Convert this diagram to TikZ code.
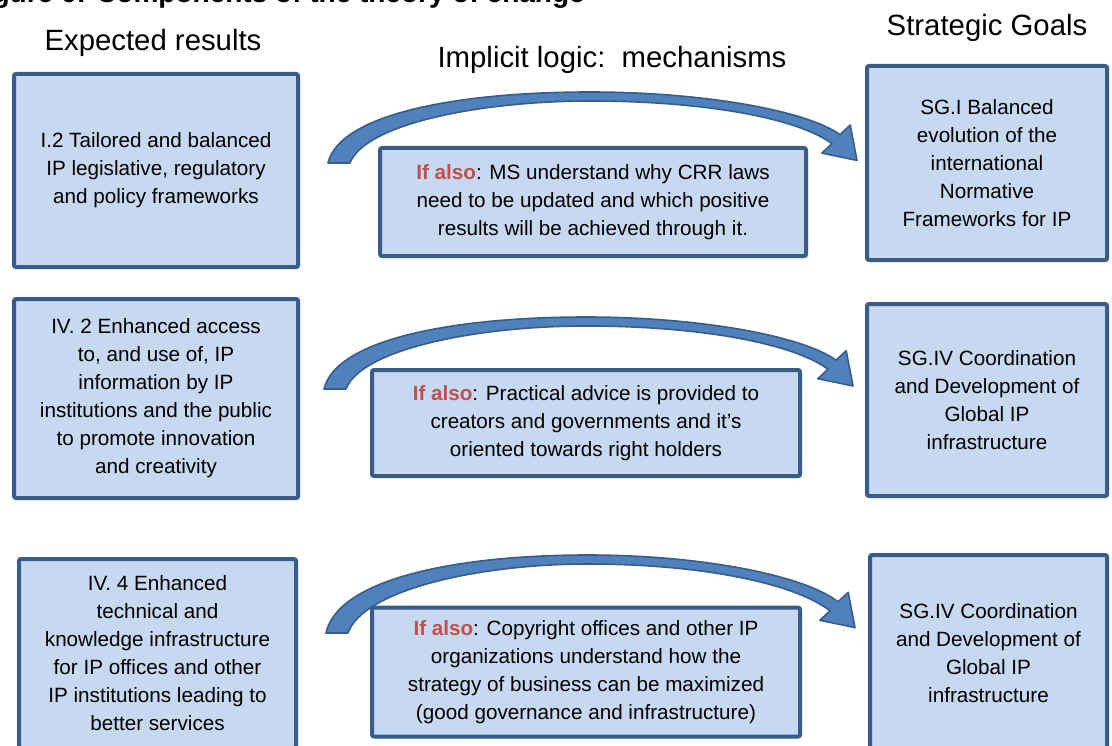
\documentclass[tikz,border=0pt]{standalone}
\usepackage{fontspec}
\setmainfont{Liberation Sans}
\usetikzlibrary{shadows}
\definecolor{boxfill}{RGB}{198,217,241}
\definecolor{boxline}{RGB}{56,93,138}
\definecolor{arrfill}{RGB}{79,129,189}
\definecolor{ifred}{RGB}{192,80,77}
\newcommand\ifalso{\textbf{\color{ifred}If also}}
\newcommand\blockarc[4]{% #1 name, #2 x shift (px), #3 bottom y, #4 top y
  \pgfmathsetmacro\arB{#3}\pgfmathsetmacro\arT{#4}\pgfmathsetmacro\arH{\arB-\arT}%
  \pgfmathsetmacro\arE{\arT+0.6*\arH}%
  \begin{scope}[xshift=#2*0.75pt]
  \draw[arrowshape] (328,\arB) coordinate (#1-start)
    .. controls (340,{\arB-0.7*\arH}) and (460,\arT) .. (590,\arT)
    .. controls (700,\arT) and (805,{\arT+0.25*\arH}) .. (840,\arE)
    -- (850.2,{\arE-9.5}) -- (857,{\arE+25.8}) coordinate (#1-tip) -- (821.8,{\arE+18.5})
    -- (832,{\arE+9})
    .. controls (795,{\arT+0.35*\arH}) and (700,{\arT+9}) .. (590,{\arT+9})
    .. controls (480,{\arT+9}) and (365,{\arB-0.55*\arH}) .. (350,\arB) -- cycle;
  \end{scope}}
\begin{document}
\begin{tikzpicture}[x=0.75pt,y=-0.75pt,
  box/.style={draw=boxline, line width=3pt, fill=boxfill, rounded corners=1.5pt,
    align=center, inner sep=0pt, font=\fontsize{15.5}{21}\selectfont,
    drop shadow={opacity=0.3, shadow xshift=1.5pt, shadow yshift=-1.5pt}},
  head/.style={font=\fontsize{22}{26}\selectfont, inner sep=0pt},
  arrowshape/.style={fill=arrfill, draw=boxline, line width=1.2pt, line join=round}]
\clip (0,0) rectangle (1112,745);
\useasboundingbox (0,0) rectangle (1112,745);

\node[anchor=base east, inner sep=0pt, font=\bfseries\fontsize{21}{25}\selectfont] (title) at (585,3) {Figure 6: Components of the theory of change};

\node[head] (hl) at (153,43) {Expected results};
\node[head] (hm) at (612,60) {Implicit logic:\ \ mechanisms};
\node[head] (hr) at (987,28) {Strategic Goals};

\blockarc{a1}{0}{163}{92}
\blockarc{a2}{-4}{389}{317}
\blockarc{a3}{-2}{633}{555}

\node[box, minimum width=284*0.75pt, minimum height=193*0.75pt] (l1) at (156,170.5)
  {I.2 Tailored and balanced\\IP legislative, regulatory\\and policy frameworks};
\node[box, minimum width=284*0.75pt, minimum height=199*0.75pt] (l2) at (156,398.5)
  {IV. 2 Enhanced access\\to, and use of, IP\\information by IP\\institutions and the public\\to promote innovation\\and creativity};
\node[box, minimum width=277*0.75pt, minimum height=189*0.75pt] (l3) at (157.5,653.5)
  {IV. 4 Enhanced\\technical and\\knowledge infrastructure\\for IP offices and other\\IP institutions leading to\\better services};

\node[box, minimum width=426*0.75pt, minimum height=108*0.75pt] (m1) at (593,202)
  {\ifalso: MS understand why CRR laws\\need to be updated and which positive\\results will be achieved through it.};
\node[box, minimum width=428*0.75pt, minimum height=106*0.75pt] (m2) at (586,423)
  {\ifalso: Practical advice is provided to\\creators and governments and it’s\\oriented towards right holders};
\node[box, minimum width=428*0.75pt, minimum height=129*0.75pt] (m3) at (586,672)
  {\ifalso: Copyright offices and other IP\\organizations understand how the\\strategy of business can be maximized\\(good governance and infrastructure)};

\node[box, minimum width=240*0.75pt, minimum height=194*0.75pt] (r1) at (987,163)
  {SG.I Balanced\\evolution of the\\international\\Normative\\Frameworks for IP};
\node[box, minimum width=240*0.75pt, minimum height=192*0.75pt] (r2) at (987,400)
  {SG.IV Coordination\\and Development of\\Global IP\\infrastructure};
\node[box, minimum width=237*0.75pt, minimum height=196*0.75pt] (r3) at (988.5,653)
  {SG.IV Coordination\\and Development of\\Global IP\\infrastructure};
\end{tikzpicture}
\end{document}
